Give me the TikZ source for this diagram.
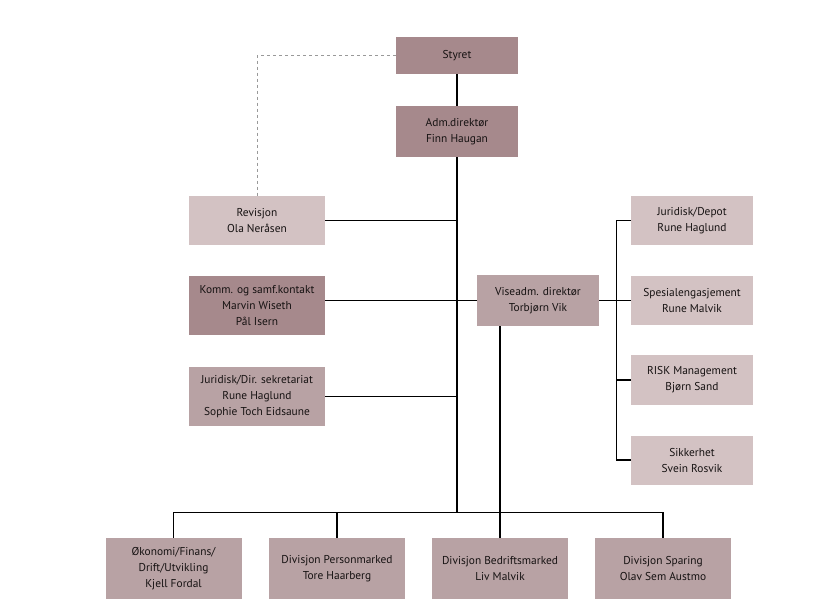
\documentclass[tikz,border=0pt]{standalone}
\usepackage{fontspec}
\setmainfont{PT Sans}
\definecolor{cdark}{HTML}{A6898C}
\definecolor{cmid}{HTML}{B8A2A4}
\definecolor{clight}{HTML}{D3C2C3}
\definecolor{ctext}{HTML}{161212}
\begin{document}
\begin{tikzpicture}[x=1pt,y=-1pt,
  orgbox/.style={rectangle, inner sep=0pt, align=center, text=ctext,
    font=\fontsize{11.4}{16}\selectfont},
  wbox/.style={orgbox, minimum width=122pt, minimum height=50pt},
  lbox/.style={orgbox, minimum width=136pt},
  bbox/.style={orgbox, minimum width=136pt, minimum height=61pt, fill=cmid},
  conn/.style={line width=1.1pt, black}]
\useasboundingbox (0,0) rectangle (832,611);
% top
\node[wbox, fill=cdark, minimum height=37pt] (sty) at (457,55.5) {Styret};
\node[wbox, fill=cdark, minimum height=51pt] (adm) at (457,131.5) {Adm.direktør\\Finn Haugan};
% left staff
\node[lbox, fill=clight, minimum height=49pt] (rev) at (257,220.5) {Revisjon\\Ola Neråsen};
\node[lbox, fill=cdark, minimum height=59pt] (komm) at (257,305.5) {Komm. og samf.kontakt\\Marvin Wiseth\\Pål Isern};
\node[lbox, fill=cmid, minimum height=59pt] (jdir) at (257,396.5) {Juridisk/Dir. sekretariat\\Rune Haglund\\Sophie Toch Eidsaune};
% vise
\node[wbox, fill=cmid, minimum height=51pt] (vise) at (538,300.5) {Viseadm. direktør\\Torbjørn Vik};
% right column
\node[wbox, fill=clight, minimum height=49pt] (jdep) at (692,220.5) {Juridisk/Depot\\Rune Haglund};
\node[wbox, fill=clight, minimum height=49pt] (spes) at (692,300.5) {Spesialengasjement\\Rune Malvik};
\node[wbox, fill=clight, minimum height=50pt] (risk) at (692,380) {RISK Management\\Bjørn Sand};
\node[wbox, fill=clight, minimum height=49pt] (sikk) at (692,460) {Sikkerhet\\Svein Rosvik};
% bottom
\node[bbox] (oko) at (173.5,568.5) {Økonomi/Finans/\\Drift/Utvikling\\Kjell Fordal};
\node[bbox] (pers) at (337,568.5) {Divisjon Personmarked\\Tore Haarberg};
\node[bbox] (bedr) at (500,568.5) {Divisjon Bedriftsmarked\\Liv Malvik};
\node[bbox] (spar) at (663,568.5) {Divisjon Sparing\\Olav Sem Austmo};
\coordinate (bus) at (457,512.5);
% connectors
\draw[dashed, gray!80, line width=0.8pt] (sty.west) -| (rev.north);
\draw[conn] (sty) -- (adm);
\draw[conn] (adm.south) -- (adm.south |- bus);
\draw[conn] (rev.east) -- (rev.east -| adm.south);
\draw[conn] (komm.east |- vise.west) -- (vise.west);
\draw[conn] (jdir.east) -- (jdir.east -| adm.south);
\draw[conn] (oko.north) |- (bus) -| (spar.north);
\draw[conn] (pers.north) -- (pers.north |- bus);
\draw[conn] (vise.south -| bedr.north) -- (bedr.north);
\draw[conn] (vise.east) -- (spes.west);
\draw[conn] (jdep.west) -- ++(-14,0) |- (sikk.west);
\draw[conn] (risk.west) -- ++(-14,0);
\end{tikzpicture}
\end{document}
